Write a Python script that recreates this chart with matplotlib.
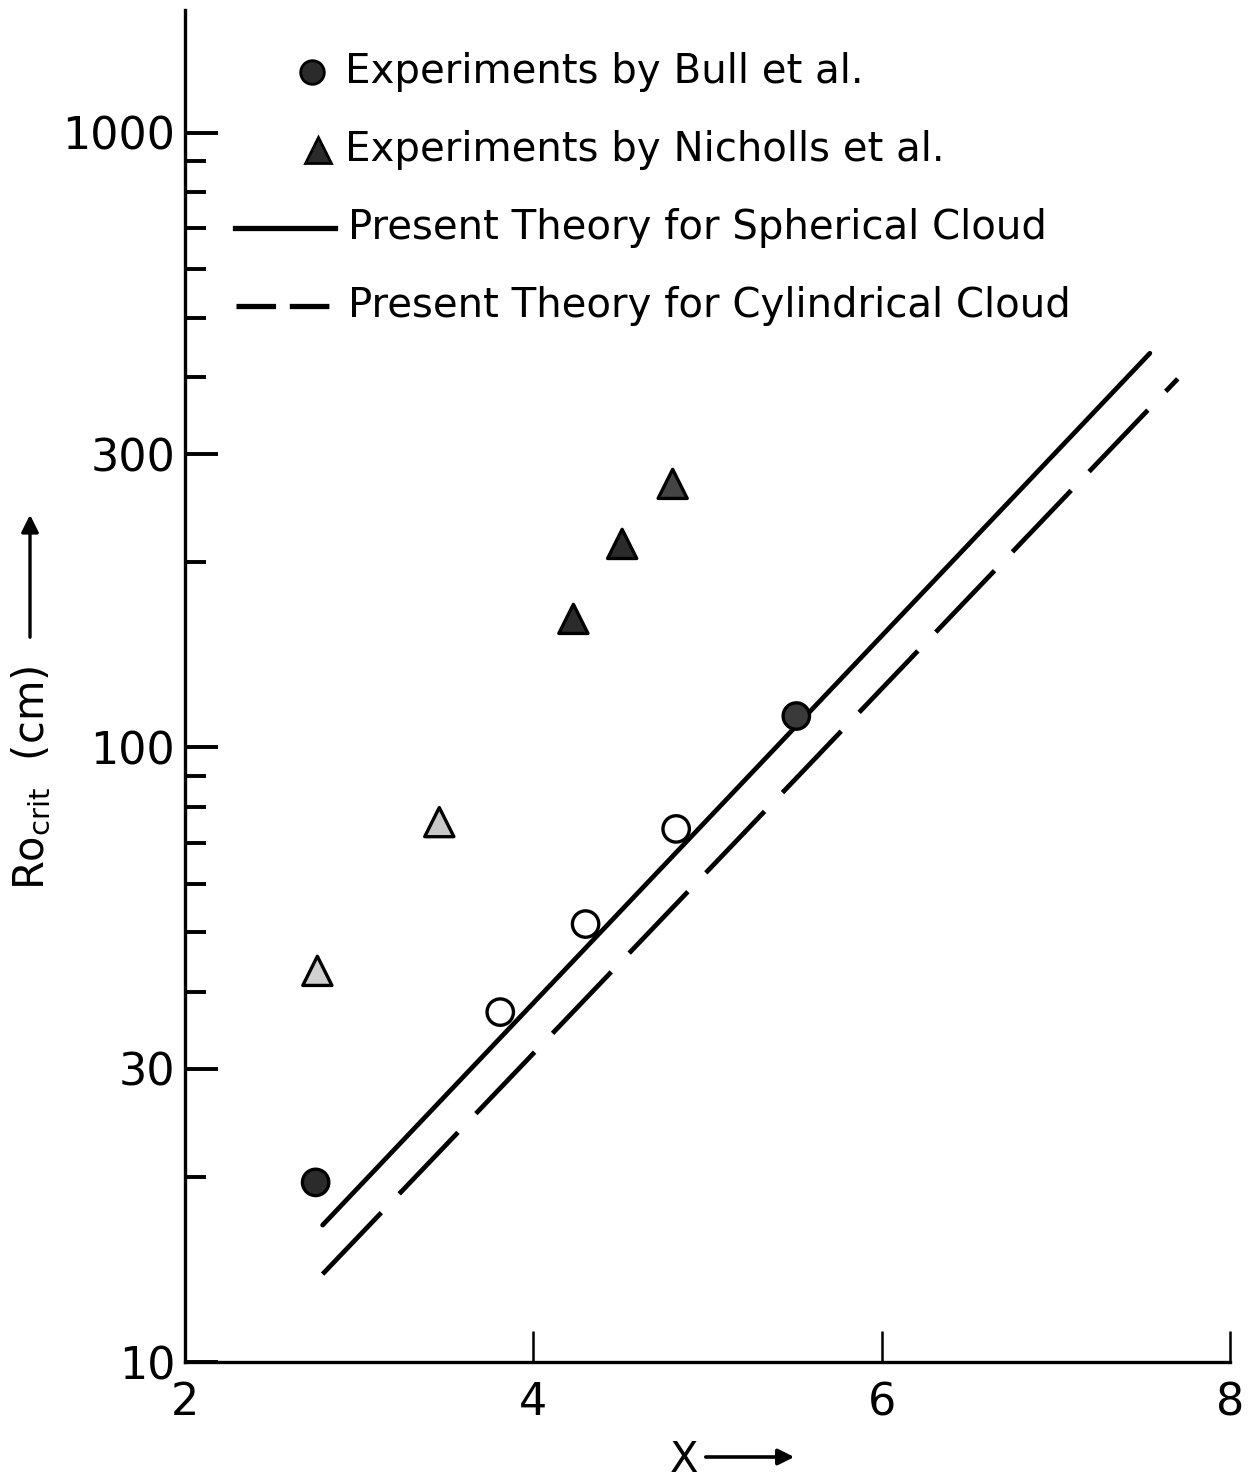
import matplotlib
matplotlib.use("Agg")
import matplotlib.pyplot as plt
from matplotlib import font_manager
from matplotlib.lines import Line2D
from matplotlib.patches import FancyArrowPatch

# Experimental data (X, critical radius in cm)
bull_x = [2.75, 3.81, 4.30, 4.82, 5.51]
bull_y = [19.6, 37.1, 51.6, 73.7, 112.5]
bull_fill = ["#2b2b2b", "white", "white", "white", "#3a3a3a"]

nicholls_x = [2.76, 3.46, 4.23, 4.51, 4.80]
nicholls_y = [43.3, 75.6, 161.9, 214.4, 268.5]
nicholls_fill = ["#d0d0d0", "#c8c8c8", "#2b2b2b", "#2b2b2b", "#444444"]

# Theory curves (straight lines on the semi-log plot)
sph_x = [2.79, 7.54]
sph_y = [16.7, 438.0]
cyl_x = [2.79, 7.70]
cyl_y = [13.9, 398.0]

y_major = [10, 30, 100, 300, 1000]
y_major_labels = ["10", "30", "100", "300", "1000"]
y_minor = [20, 40, 50, 60, 70, 80, 90, 200, 400, 500, 600, 700, 800, 900]
x_ticks = [2, 4, 6, 8]

legend_labels = [
    "Experiments by Bull et al.",
    "Experiments by Nicholls et al.",
    "Present Theory for Spherical Cloud",
    "Present Theory for Cylindrical Cloud",
]

names = {f.name for f in font_manager.fontManager.ttflist}
text_font = "Liberation Sans Narrow" if "Liberation Sans Narrow" in names else "DejaVu Sans"
num_font = "DejaVu Sans"

W, H = 1254, 1479
fig = plt.figure(figsize=(W / 100, H / 100), dpi=100)
fig.patch.set_facecolor("white")


def fx(px):
    return px / W


def fy(py):
    return 1 - py / H


ax = fig.add_axes([fx(185), fy(1362), fx(1230) - fx(185), fy(10) - fy(1362)])
ax.set_yscale("log")
ax.set_xlim(2, 8)
ax.set_ylim(10, 1585)

for s in ["top", "right"]:
    ax.spines[s].set_visible(False)
for s in ["left", "bottom"]:
    ax.spines[s].set_linewidth(2.4)

ax.set_yticks(y_major)
ax.set_yticklabels(y_major_labels)
ax.set_yticks(y_minor, minor=True)
ax.set_yticklabels([], minor=True)
ax.set_xticks(x_ticks)
ax.set_xticklabels([str(t) for t in x_ticks])
ax.tick_params(axis="y", which="major", direction="in", length=24, width=2.8,
               pad=7, labelsize=32)
ax.tick_params(axis="y", which="minor", direction="in", length=15, width=2.8)
ax.tick_params(axis="x", which="major", direction="in", length=22, width=1.8,
               pad=14, labelsize=32)
for lab in ax.get_xticklabels() + ax.get_yticklabels():
    lab.set_fontfamily(num_font)

# Theory lines
ax.plot(sph_x, sph_y, color="black", lw=3.4, solid_capstyle="round")
ax.plot(cyl_x, cyl_y, color="black", lw=3.4, dashes=(18, 5.5))

# Experimental points
ax.scatter(bull_x, bull_y, s=19 ** 2, marker="o", c=bull_fill,
           edgecolors="black", linewidths=2.4, zorder=5)
ax.scatter(nicholls_x, nicholls_y, s=21 ** 2, marker="^", c=nicholls_fill,
           edgecolors="black", linewidths=2.4, zorder=5)

# Key
key_rows = [72, 150, 228, 306]
fig.add_artist(Line2D([fx(312)], [fy(key_rows[0])], marker="o", markersize=17,
                      markerfacecolor="#2b2b2b", markeredgecolor="black",
                      markeredgewidth=2, transform=fig.transFigure))
fig.add_artist(Line2D([fx(318)], [fy(key_rows[1])], marker="^", markersize=19,
                      markerfacecolor="#2b2b2b", markeredgecolor="black",
                      markeredgewidth=2, transform=fig.transFigure))
fig.add_artist(Line2D([fx(235), fx(335)], [fy(key_rows[2])] * 2, color="black",
                      lw=3.8, transform=fig.transFigure))
fig.add_artist(Line2D([fx(236), fx(335)], [fy(key_rows[3])] * 2, color="black",
                      lw=3.8, dashes=(7.5, 2.6), transform=fig.transFigure))
text_x = [345, 345, 348, 348]
for lab, row, tx in zip(legend_labels, key_rows, text_x):
    fig.text(fx(tx), fy(row), lab, fontsize=29, family=text_font,
             ha="left", va="center")

# Axis titles with arrows
fig.text(fx(32), fy(778), r"Ro$_{\mathregular{crit}}$  (cm)", rotation=90,
         fontsize=30, family=text_font, ha="center", va="center")
fig.add_artist(FancyArrowPatch(
    (fx(30), fy(640)), (fx(30), fy(512)), transform=fig.transFigure,
    arrowstyle="-|>", mutation_scale=26, lw=2.4, color="black"))

fig.text(fx(684), fy(1460), "X", fontsize=30, family=text_font,
         ha="center", va="center")
fig.add_artist(FancyArrowPatch(
    (fx(703), fy(1457)), (fx(797), fy(1457)), transform=fig.transFigure,
    arrowstyle="-|>", mutation_scale=24, lw=2.6, color="black"))

fig.savefig("out.png", dpi=100, facecolor="white")
